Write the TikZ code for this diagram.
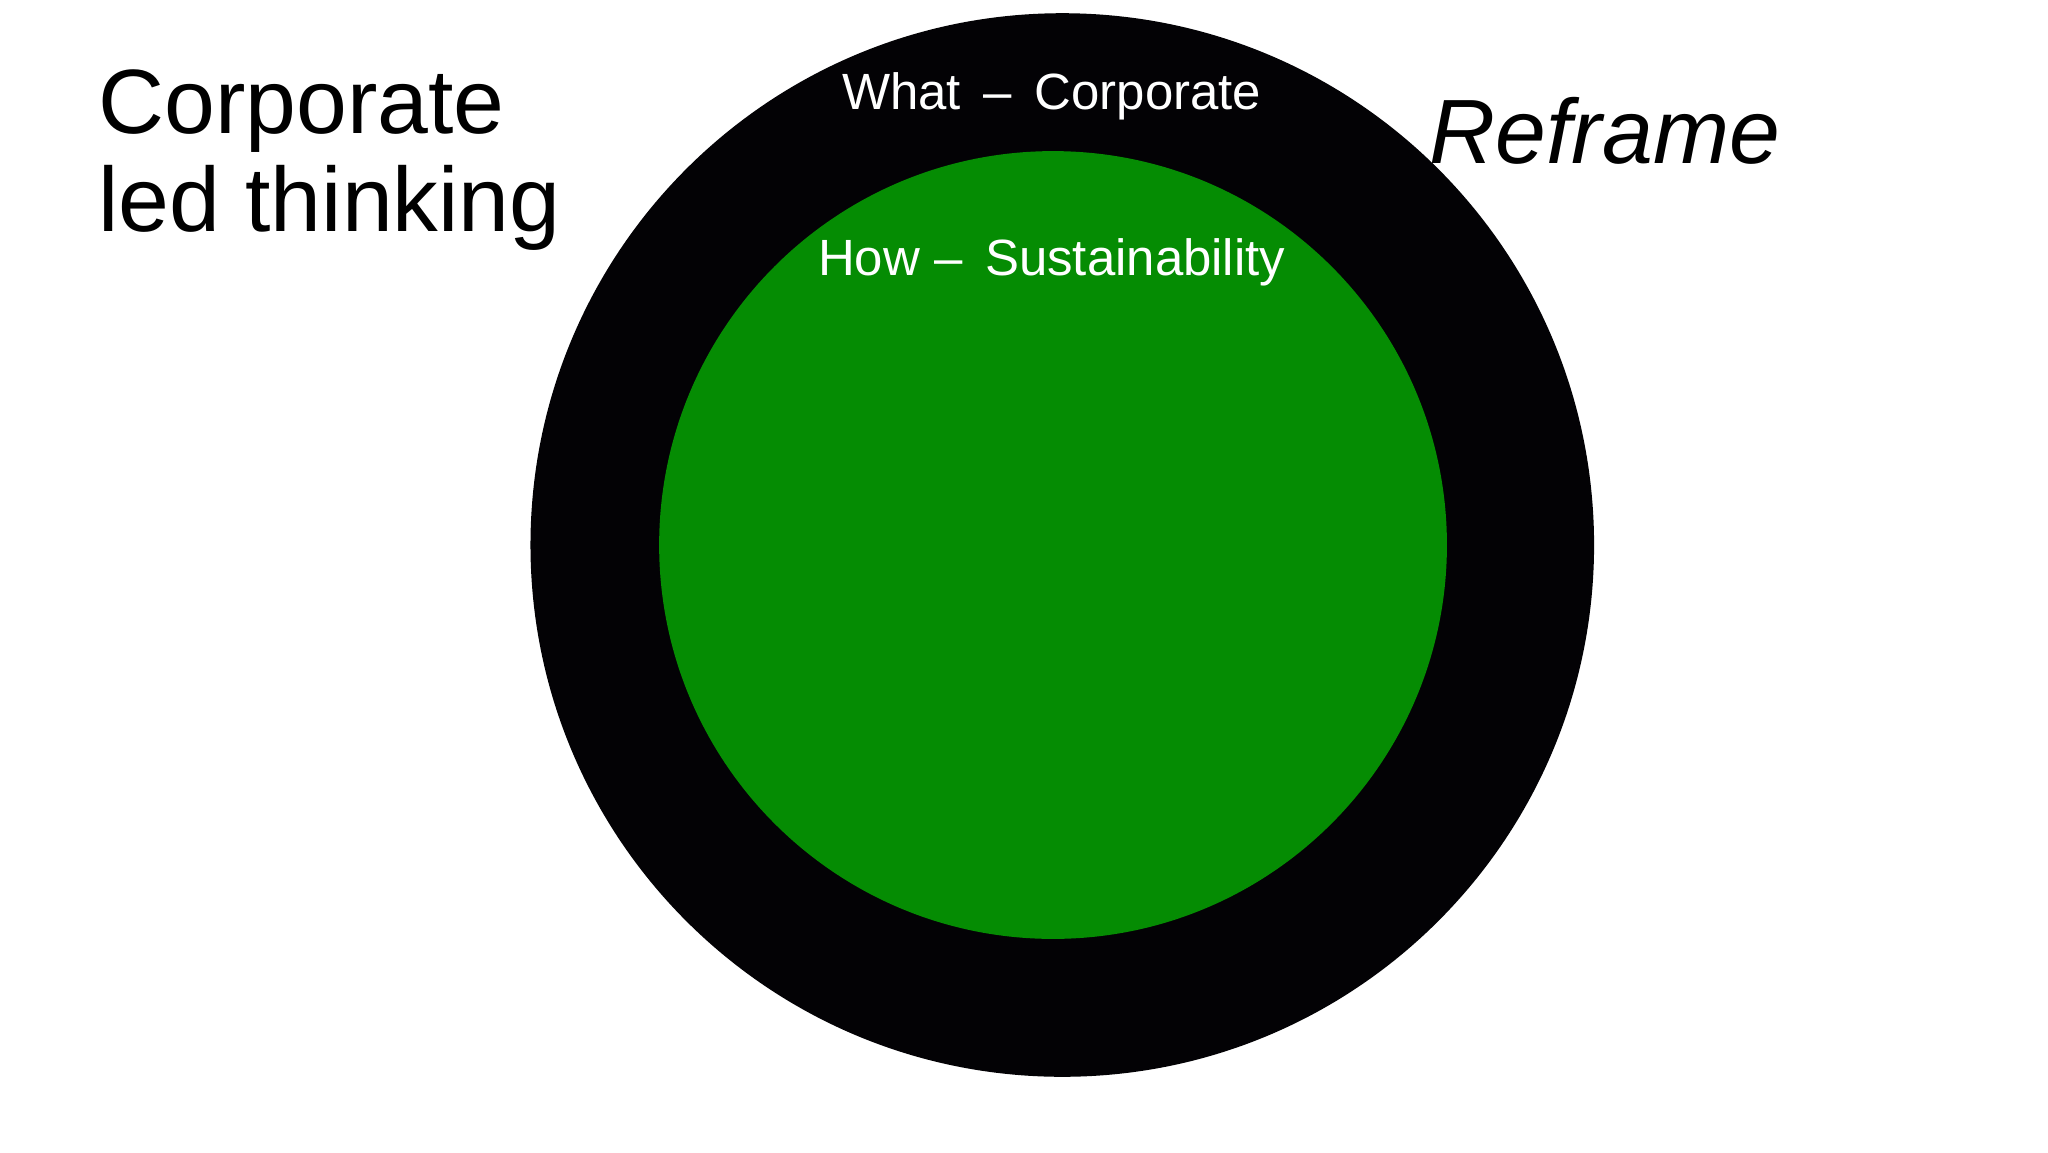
\documentclass[tikz,border=0pt]{standalone}
\usepackage{fontspec}
\setmainfont{Liberation Sans}
\definecolor{ringblack}{HTML}{030205}
\definecolor{leafgreen}{HTML}{058C03}
\tikzset{lbl/.style={text=white,font=\fontsize{14.5}{17}\selectfont,inner sep=0pt},
big/.style={text=black,font=\fontsize{26}{28}\selectfont,inner sep=0pt,align=left}}
\begin{document}
\begin{tikzpicture}[x=0.013196cm,y=-0.013196cm]
\useasboundingbox (0,0) rectangle (1552,873);
\fill[white] (0,0) rectangle (1552,873);
\node[circle,fill=ringblack,minimum size=806*0.013196cm,inner sep=0pt] (outer) at (805,413) {};
\node[circle,fill=leafgreen,minimum size=597*0.013196cm,inner sep=0pt] (inner) at (798,413) {};
\node[lbl,anchor=base] (what) at (797,83) {What \,–\, Corporate};
\node[lbl,anchor=base] (how) at (797,209) {How –\, Sustainability};
\node[big,anchor=north west] (corp) at (74,52) {Corporate\\led thinking};
\node[big,anchor=base west,font=\fontsize{26}{28}\selectfont\itshape] (reframe) at (1083,124) {Reframe};
\end{tikzpicture}
\end{document}
